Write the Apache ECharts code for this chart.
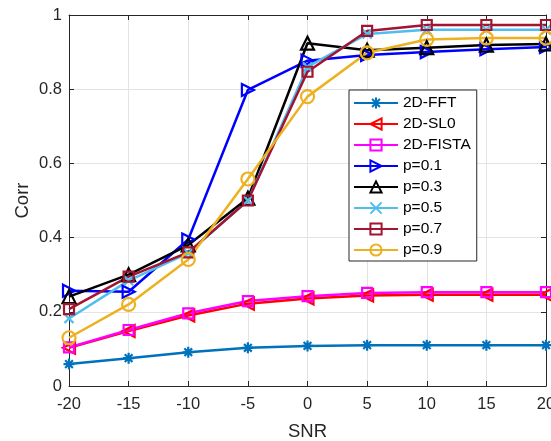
<!DOCTYPE html>
<html>
<head>
<meta charset="utf-8">
<script src="https://cdn.jsdelivr.net/npm/echarts@6/dist/echarts.min.js"></script>
<style>
  html, body { margin: 0; padding: 0; background: #fff; }
  #chart { width: 551px; height: 441px; }
</style>
</head>
<body>
<div id="chart"></div>
<script>
// SNR sweep (dB) and correlation per reconstruction method
const snr = [-20, -15, -10, -5, 0, 5, 10, 15, 20];
const fft2d   = [0.059, 0.075, 0.091, 0.103, 0.108, 0.110, 0.110, 0.110, 0.110];
const sl02d   = [0.103, 0.148, 0.190, 0.222, 0.236, 0.244, 0.246, 0.246, 0.246];
const fista2d = [0.104, 0.151, 0.196, 0.229, 0.242, 0.251, 0.253, 0.253, 0.253];
const p01 = [0.257, 0.254, 0.395, 0.798, 0.877, 0.892, 0.900, 0.908, 0.914];
const p03 = [0.241, 0.300, 0.380, 0.506, 0.924, 0.905, 0.912, 0.919, 0.922];
const p05 = [0.182, 0.284, 0.358, 0.500, 0.860, 0.949, 0.960, 0.960, 0.960];
const p07 = [0.207, 0.295, 0.360, 0.500, 0.847, 0.957, 0.973, 0.973, 0.973];
const p09 = [0.130, 0.220, 0.341, 0.558, 0.780, 0.898, 0.934, 0.938, 0.938];

const xTicks = { min: -20, max: 20, interval: 5 };
const yTicks = { min: 0, max: 1, interval: 0.2 };

const FONT = '"Liberation Sans", Arial, Helvetica, sans-serif';
const AXIS = '#262626';

// marker shapes (outline only)
const SYM = {
  asterisk: 'path://M0,-1L0,1M-1,0L1,0M-0.7,-0.7L0.7,0.7M-0.7,0.7L0.7,-0.7',
  left: 'path://M2,0L0,1L2,2Z',
  right: 'path://M0,0L2,1L0,2Z',
  up: 'path://M1,0L2,1.8L0,1.8Z',
  cross: 'path://M-1,-1L1,1M-1,1L1,-1',
  square: 'rect',
  circle: 'circle'
};

const defs = [
  { name: '2D-FFT',   data: fft2d,   color: '#0072BD', sym: SYM.asterisk, size: 11 },
  { name: '2D-SL0',   data: sl02d,   color: '#FF0000', sym: SYM.left,     size: 12 },
  { name: '2D-FISTA', data: fista2d, color: '#FF00FF', sym: SYM.square,   size: 10 },
  { name: 'p=0.1',    data: p01,     color: '#0000FF', sym: SYM.right,    size: 12 },
  { name: 'p=0.3',    data: p03,     color: '#000000', sym: SYM.up,       size: 13 },
  { name: 'p=0.5',    data: p05,     color: '#4DBEEE', sym: SYM.cross,    size: 9 },
  { name: 'p=0.7',    data: p07,     color: '#A2142F', sym: SYM.square,   size: 10 },
  { name: 'p=0.9',    data: p09,     color: '#EDB120', sym: SYM.circle,   size: 13 }
];

const series = defs.map(d => ({
  name: d.name,
  type: 'line',
  data: snr.map((x, i) => [x, d.data[i]]),
  symbol: d.sym,
  symbolSize: d.size,
  showAllSymbol: true,
  lineStyle: { color: d.color, width: 2.5 },
  itemStyle: { color: 'rgba(0,0,0,0)', borderColor: d.color, borderWidth: 2.2 },
  emphasis: { disabled: true },
  animation: false
}));

const chart = echarts.init(document.getElementById('chart'), null, { renderer: 'canvas' });
chart.setOption({
  backgroundColor: '#fff',
  animation: false,
  textStyle: { fontFamily: FONT },
  grid: {
    left: 69, top: 15, right: 5, bottom: 55,
    containLabel: false,
    outerBoundsMode: 'none'
  },
  legend: {
    orient: 'vertical',
    left: 349,
    top: 90,
    padding: [5, 6, 3, 4],
    itemWidth: 44,
    itemHeight: 14,
    itemGap: 5,
    backgroundColor: '#fff',
    borderColor: AXIS,
    borderWidth: 1,
    borderRadius: 0,
    textStyle: { fontFamily: FONT, fontSize: 15.5, color: '#000' },
    data: defs.map(d => d.name)
  },
  xAxis: [
    {
      type: 'value', min: xTicks.min, max: xTicks.max, interval: xTicks.interval,
      name: 'SNR', nameLocation: 'middle', nameGap: 36,
      nameTextStyle: { fontFamily: FONT, fontSize: 18.5, color: AXIS },
      axisLine: { onZero: false, lineStyle: { color: AXIS, width: 1 } },
      axisTick: { inside: true, length: 5, lineStyle: { color: AXIS } },
      axisLabel: { fontFamily: FONT, fontSize: 16.5, color: AXIS, margin: 10 },
      splitLine: { show: true, lineStyle: { color: '#e3e3e3', width: 1 } }
    },
    {
      type: 'value', position: 'top', min: xTicks.min, max: xTicks.max, interval: xTicks.interval,
      axisLine: { onZero: false, lineStyle: { color: AXIS, width: 1 } },
      axisTick: { inside: true, length: 5, lineStyle: { color: AXIS } },
      axisLabel: { show: false },
      splitLine: { show: false }
    }
  ],
  yAxis: [
    {
      type: 'value', min: yTicks.min, max: yTicks.max, interval: yTicks.interval,
      name: 'Corr', nameLocation: 'middle', nameGap: 37, nameRotate: 90,
      nameMoveOverlap: false,
      nameTextStyle: { fontFamily: FONT, fontSize: 18.5, color: AXIS },
      axisLine: { show: true, onZero: false, lineStyle: { color: AXIS, width: 1 } },
      axisTick: { show: true, inside: true, length: 5, lineStyle: { color: AXIS } },
      axisLabel: { fontFamily: FONT, fontSize: 16.5, color: AXIS, margin: 7 },
      splitLine: { show: true, lineStyle: { color: '#e3e3e3', width: 1 } }
    },
    {
      type: 'value', position: 'right', min: yTicks.min, max: yTicks.max, interval: yTicks.interval,
      axisLine: { show: true, onZero: false, lineStyle: { color: AXIS, width: 1 } },
      axisTick: { show: true, inside: true, length: 5, lineStyle: { color: AXIS } },
      axisLabel: { show: false },
      splitLine: { show: false }
    }
  ],
  series: series
});
</script>
</body>
</html>
